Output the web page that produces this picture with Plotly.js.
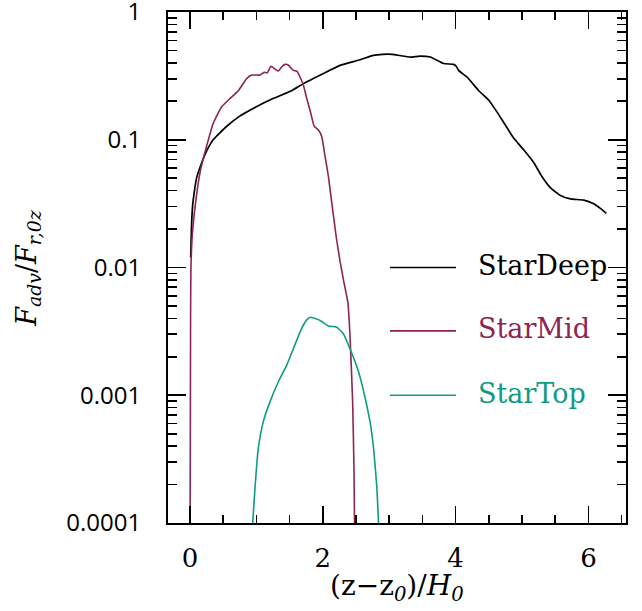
<!DOCTYPE html>
<html>
<head>
<meta charset="utf-8">
<script src="https://cdn.plot.ly/plotly-3.0.1.min.js"></script>
<style>
  html, body { margin: 0; padding: 0; background: #fff; }
  #plot { width: 642px; height: 611px; }
</style>
</head>
<body>
<div id="plot"></div>
<script>
// Advective flux profiles, normalised by F_r,0z, versus height above z0 in units of H0.
const deepX = [0.012, 0.02, 0.03, 0.04, 0.05, 0.10, 0.15, 0.25, 0.35, 0.55, 0.75, 1.00, 1.25, 1.53, 1.71,
  2.01, 2.26, 2.56, 2.76, 2.90, 3.05, 3.17, 3.32, 3.47, 3.62, 3.82, 3.97, 4.01, 4.045, 4.17, 4.35,
  4.50, 4.62, 4.75, 4.875, 5.025, 5.176, 5.30, 5.43, 5.58, 5.73, 5.93, 6.08, 6.18, 6.27];
const deepY = [0.0120, 0.0178, 0.0251, 0.0302, 0.0339, 0.0501, 0.0603, 0.0813, 0.100, 0.127, 0.153, 0.181,
  0.210, 0.242, 0.275, 0.330, 0.382, 0.423, 0.457, 0.466, 0.466, 0.455, 0.444, 0.452, 0.444, 0.395,
  0.389, 0.376, 0.349, 0.310, 0.242, 0.204, 0.166, 0.130, 0.103, 0.0834, 0.0664, 0.0516, 0.0420,
  0.0366, 0.0344, 0.0337, 0.0315, 0.0290, 0.0265];

const midX = [0.000, 0.010, 0.015, 0.035, 0.085, 0.16, 0.25, 0.35, 0.478, 0.603, 0.729, 0.854, 0.93,
  1.055, 1.116, 1.166, 1.22, 1.28, 1.33, 1.38, 1.432, 1.48, 1.557, 1.61, 1.658, 1.709, 1.76, 1.82,
  1.87, 1.935, 1.985, 2.035, 2.085, 2.136, 2.20, 2.26, 2.32, 2.378, 2.41, 2.45, 2.47, 2.485];
const midY = [0.00002, 0.00398, 0.00955, 0.0178, 0.0321, 0.0582, 0.0885, 0.134, 0.181, 0.210, 0.242,
  0.301, 0.321, 0.321, 0.337, 0.335, 0.376, 0.358, 0.345, 0.371, 0.389, 0.385, 0.349, 0.344, 0.310,
  0.267, 0.210, 0.161, 0.128, 0.119, 0.106, 0.0740, 0.0516, 0.0321, 0.0178, 0.0112, 0.00759, 0.00535,
  0.00295, 0.000891, 0.000269, 0.00005];

const topX = [0.935, 0.945, 0.98, 1.03, 1.105, 1.206, 1.33, 1.458, 1.557, 1.658, 1.72, 1.77, 1.81, 1.96,
  2.085, 2.21, 2.31, 2.41, 2.54, 2.64, 2.72, 2.77, 2.815, 2.84, 2.85];
const topY = [0.00005, 0.0000977, 0.000188, 0.000385, 0.000622, 0.000891, 0.00127, 0.00172, 0.00231,
  0.00312, 0.00363, 0.00394, 0.00408, 0.00385, 0.00348, 0.00341, 0.00303, 0.00231, 0.00152, 0.000944,
  0.000586, 0.000363, 0.000188, 0.0000977, 0.00005];

const seriesNames = ['StarDeep', 'StarMid', 'StarTop'];
const seriesColors = ['#000000', '#8c2455', '#109b86'];

const yTickVals = [0.0001, 0.001, 0.01, 0.1, 1];
const yTickText = ['0.0001', '0.001', '0.01', '0.1', '1'];
const xTickVals = [0, 2, 4, 6];
const xTickText = ['0', '2', '4', '6'];

const serif = 'DejaVu Serif, serif';
const sans = 'Open Sans, sans-serif';

const xs = [deepX, midX, topX];
const ys = [deepY, midY, topY];
const traces = seriesNames.map((name, i) => ({
  x: xs[i], y: ys[i], name: name, type: 'scatter', mode: 'lines',
  line: { color: seriesColors[i], width: i === 0 ? 1.7 : 1.6, shape: 'spline', smoothing: 0.4 },
  showlegend: false, hoverinfo: 'skip'
}));

// Hand-placed key: a short line sample followed by the coloured series name.
const keyY = [0.5, 0.376, 0.25];
const shapes = seriesNames.map((n, i) => ({
  type: 'line', xref: 'paper', yref: 'paper', x0: 0.4847, x1: 0.6288, y0: keyY[i], y1: keyY[i],
  line: { color: seriesColors[i], width: 1.6 }
}));
const annotations = seriesNames.map((n, i) => ({
  xref: 'paper', yref: 'paper', x: 0.6725, y: keyY[i] + 0.004, xanchor: 'left', yanchor: 'middle',
  text: n, showarrow: false, font: { family: serif, size: 27, color: seriesColors[i] }
}));
annotations.push({
  xref: 'paper', yref: 'paper', x: 0.5, y: -0.126, xanchor: 'center', yanchor: 'middle',
  text: '(z\u2212z<sub><i>0</i></sub>)/<i>H</i><sub><i>0</i></sub>', showarrow: false,
  font: { family: serif, size: 28, color: '#000' }
});
annotations.push({
  xref: 'paper', yref: 'paper', x: -0.305, y: 0.5, xanchor: 'center', yanchor: 'middle',
  textangle: -90,
  text: '<i>F</i><sub><i>adv</i></sub>/<i>F</i><sub><i>r,0z</i></sub>', showarrow: false,
  font: { family: serif, size: 27, color: '#000' }
});

const layout = {
  width: 642, height: 611,
  margin: { l: 168, r: 16, t: 12, b: 88 },
  paper_bgcolor: '#fff', plot_bgcolor: '#fff',
  xaxis: {
    range: [-0.33, 6.566], showgrid: false, zeroline: false,
    showline: true, linecolor: '#000', linewidth: 2, mirror: 'allticks',
    ticks: 'inside', ticklen: 17, tickwidth: 1.6, tickcolor: '#000',
    tickvals: xTickVals, ticktext: xTickText, ticklabelstandoff: 11,
    tickfont: { family: serif, size: 26, color: '#000' },
    minor: { dtick: 0.5, tick0: 0, ticks: 'inside', ticklen: 8, tickwidth: 1.6, tickcolor: '#000', showgrid: false }
  },
  yaxis: {
    type: 'log', range: [-4, 0], showgrid: false, zeroline: false,
    showline: true, linecolor: '#000', linewidth: 2, mirror: 'allticks',
    ticks: 'inside', ticklen: 18, tickwidth: 1.6, tickcolor: '#000',
    tickvals: yTickVals, ticktext: yTickText, ticklabelstandoff: 20,
    ticklabeloverflow: 'allow',
    tickfont: { family: sans, size: 24, color: '#000' },
    minor: { dtick: 'D1', ticks: 'inside', ticklen: 9, tickwidth: 1.6, tickcolor: '#000', showgrid: false }
  },
  shapes: shapes,
  annotations: annotations,
  showlegend: false
};

Plotly.newPlot('plot', traces, layout, { staticPlot: true, displayModeBar: false });
</script>
</body>
</html>
